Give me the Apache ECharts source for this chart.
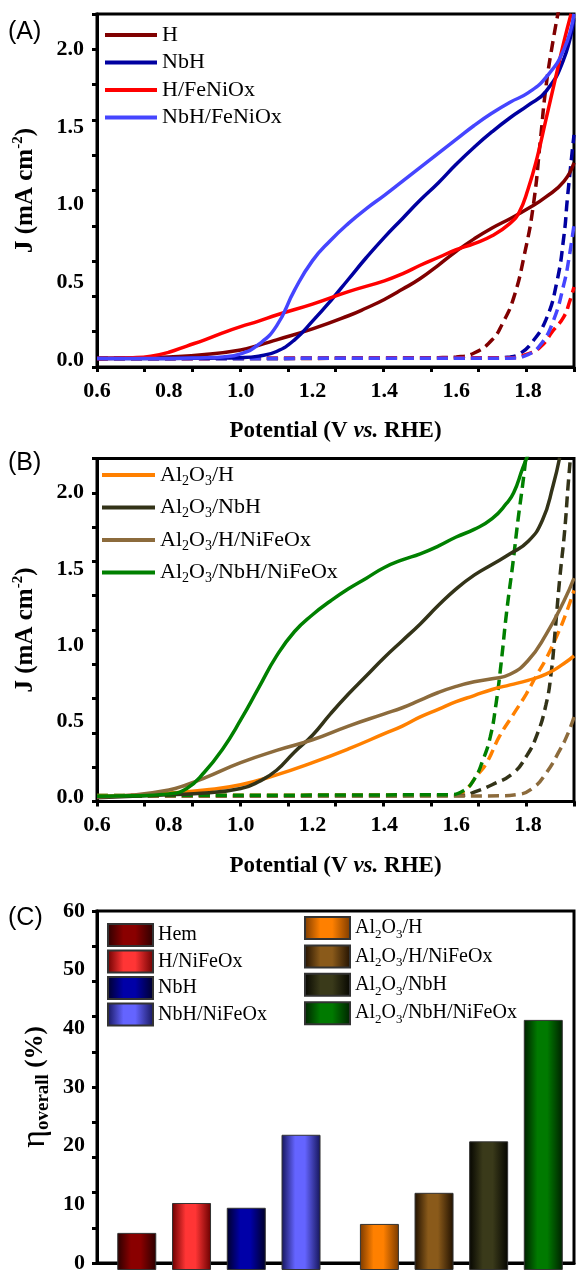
<!DOCTYPE html>
<html>
<head>
<meta charset="utf-8">
<script src="https://cdn.jsdelivr.net/npm/echarts@6/dist/echarts.min.js"></script>
<style>html,body{margin:0;padding:0;background:#fff}#c{width:579px;height:1274px}</style>
</head>
<body>
<div id="c"></div>
<script>
// ---------- DATA ----------
const potentialLabels = [0.6, 0.8, 1.0, 1.2, 1.4, 1.6, 1.8];
const currentLabels = [0.0, 0.5, 1.0, 1.5, 2.0];
const etaLabels = [0, 10, 20, 30, 40, 50, 60];

// Panel A (light: solid, dark: dashed)
const A_H = [[0.6,0.01],[0.7,0.013],[0.8,0.02],[0.9,0.035],[1.0,0.065],[1.05,0.095],[1.1,0.13],[1.2,0.2],[1.3,0.285],[1.35,0.335],[1.4,0.39],[1.45,0.455],[1.5,0.525],[1.55,0.61],[1.6,0.7],[1.65,0.78],[1.7,0.85],[1.75,0.91],[1.8,0.975],[1.85,1.05],[1.9,1.15],[1.928,1.27]];
const A_NbH = [[0.6,0.01],[0.8,0.01],[0.9,0.012],[1.0,0.015],[1.05,0.025],[1.1,0.055],[1.15,0.13],[1.2,0.25],[1.25,0.38],[1.3,0.52],[1.35,0.66],[1.4,0.79],[1.45,0.91],[1.5,1.03],[1.55,1.14],[1.6,1.26],[1.65,1.37],[1.7,1.47],[1.75,1.56],[1.8,1.64],[1.85,1.73],[1.9,1.94],[1.928,2.2]];
const A_HFe = [[0.6,0.01],[0.7,0.015],[0.75,0.025],[0.8,0.05],[0.85,0.09],[0.9,0.13],[0.95,0.175],[1.0,0.215],[1.05,0.25],[1.1,0.29],[1.2,0.36],[1.3,0.44],[1.4,0.51],[1.45,0.555],[1.5,0.61],[1.55,0.66],[1.6,0.71],[1.65,0.75],[1.7,0.8],[1.75,0.88],[1.775,0.95],[1.8,1.1],[1.825,1.3],[1.85,1.55],[1.875,1.8],[1.9,2.05],[1.92,2.23]];
const A_NbHFe = [[0.6,0.01],[0.8,0.01],[0.9,0.015],[0.95,0.02],[1.0,0.04],[1.05,0.1],[1.1,0.22],[1.15,0.45],[1.2,0.64],[1.25,0.77],[1.3,0.88],[1.35,0.975],[1.4,1.06],[1.45,1.15],[1.5,1.24],[1.55,1.33],[1.6,1.42],[1.65,1.51],[1.7,1.59],[1.75,1.66],[1.8,1.72],[1.85,1.82],[1.9,2.0],[1.928,2.23]];
const A_H_dark = [[0.6,0.01],[1.0,0.01],[1.4,0.012],[1.55,0.015],[1.6,0.02],[1.65,0.045],[1.7,0.13],[1.73,0.24],[1.76,0.4],[1.79,0.68],[1.815,1.0],[1.835,1.43],[1.85,1.76],[1.87,2.06],[1.885,2.25]];
const A_NbH_dark = [[0.6,0.01],[1.7,0.012],[1.75,0.02],[1.78,0.045],[1.81,0.11],[1.85,0.26],[1.88,0.5],[1.9,0.8],[1.91,1.05],[1.928,1.45]];
const A_HFe_dark = [[0.6,0.01],[1.75,0.015],[1.8,0.04],[1.835,0.085],[1.87,0.19],[1.9,0.28],[1.915,0.37],[1.928,0.47]];
const A_NbHFe_dark = [[0.6,0.01],[1.75,0.012],[1.8,0.035],[1.835,0.1],[1.87,0.25],[1.9,0.49],[1.915,0.67],[1.928,0.87]];

// Panel B
const B_H = [[0.6,0.01],[0.7,0.015],[0.8,0.03],[0.9,0.05],[1.0,0.085],[1.1,0.15],[1.2,0.23],[1.3,0.32],[1.4,0.42],[1.45,0.47],[1.5,0.53],[1.55,0.58],[1.6,0.63],[1.65,0.67],[1.7,0.71],[1.75,0.74],[1.8,0.77],[1.85,0.81],[1.9,0.88],[1.928,0.93]];
const B_NbH = [[0.6,0.0],[0.8,0.02],[0.9,0.03],[1.0,0.06],[1.05,0.105],[1.1,0.18],[1.15,0.3],[1.2,0.41],[1.25,0.55],[1.3,0.68],[1.35,0.8],[1.4,0.92],[1.45,1.03],[1.5,1.14],[1.55,1.26],[1.6,1.37],[1.65,1.46],[1.7,1.53],[1.75,1.6],[1.8,1.68],[1.84,1.82],[1.87,2.05],[1.888,2.23]];
const B_HFe = [[0.6,0.005],[0.7,0.017],[0.8,0.05],[0.85,0.085],[0.9,0.13],[1.0,0.23],[1.1,0.31],[1.2,0.38],[1.3,0.47],[1.4,0.55],[1.45,0.59],[1.5,0.64],[1.55,0.69],[1.6,0.73],[1.65,0.76],[1.7,0.78],[1.75,0.81],[1.8,0.9],[1.85,1.07],[1.9,1.29],[1.928,1.44]];
const B_NbHFe = [[0.6,0.01],[0.7,0.012],[0.8,0.025],[0.85,0.06],[0.9,0.17],[0.95,0.32],[1.0,0.51],[1.05,0.72],[1.1,0.93],[1.15,1.09],[1.2,1.2],[1.25,1.29],[1.3,1.37],[1.35,1.44],[1.4,1.51],[1.45,1.56],[1.5,1.6],[1.55,1.65],[1.6,1.71],[1.65,1.76],[1.7,1.83],[1.74,1.93],[1.76,2.0],[1.785,2.16],[1.8,2.25]];
const B_H_dark = [[0.6,0.015],[1.6,0.02],[1.63,0.06],[1.656,0.14],[1.684,0.225],[1.72,0.4],[1.76,0.55],[1.795,0.68],[1.823,0.8],[1.85,0.91],[1.88,1.06],[1.906,1.21],[1.928,1.36]];
const B_NbH_dark = [[0.6,0.01],[1.62,0.015],[1.65,0.036],[1.7,0.085],[1.758,0.16],[1.795,0.27],[1.823,0.4],[1.85,0.61],[1.865,0.83],[1.875,1.08],[1.888,1.43],[1.902,1.75],[1.911,2.03],[1.918,2.23]];
const B_HFe_dark = [[0.6,0.01],[1.72,0.012],[1.77,0.02],[1.814,0.064],[1.85,0.16],[1.888,0.31],[1.911,0.42],[1.928,0.53]];
const B_NbHFe_dark = [[0.6,0.015],[1.58,0.02],[1.62,0.045],[1.65,0.12],[1.675,0.25],[1.695,0.4],[1.71,0.6],[1.725,0.88],[1.74,1.21],[1.758,1.54],[1.772,1.82],[1.786,2.07],[1.795,2.25]];

// Panel C
const bareNames = ['Hem', 'H/NiFeOx', 'NbH', 'NbH/NiFeOx'];
const bareEta = [6.2, 11.2, 10.4, 22.6];
const alNames = ['Al2O3/H', 'Al2O3/H/NiFeOx', 'Al2O3/NbH', 'Al2O3/NbH/NiFeOx'];
const alEta = [7.7, 12.9, 21.5, 41.8];

// ---------- STYLE ----------
const SERIF = '"Liberation Serif", "Times New Roman", serif';
const X_MIN = 0.6, X_MAX = 1.928;
const YA_MIN = -0.045, YA_MAX = 2.228;
const YB_MIN = -0.025, YB_MAX = 2.225;
const BAR_PREFIX = 'eta:';
const evenTicks = (a, b, n) => Array.from({length: n + 1}, (_, i) => a + i * (b - a) / n);

const lineColorsA = {'H': '#800000', 'NbH': '#0000a0', 'H/FeNiOx': '#ff0000', 'NbH/FeNiOx': '#4545ff'};
const lineColorsB = {'Al2O3/H': '#ff8000', 'Al2O3/NbH': '#333318', 'Al2O3/H/NiFeOx': '#8c6b3c', 'Al2O3/NbH/NiFeOx': '#008000'};
const barColors = {
  'Hem': ['#2a0000', '#8a0000'],
  'H/NiFeOx': ['#6a0000', '#ff3535'],
  'NbH': ['#000028', '#0000a8'],
  'NbH/NiFeOx': ['#15155a', '#6464ff'],
  'Al2O3/H': ['#7a3a00', '#ff8000'],
  'Al2O3/H/NiFeOx': ['#201000', '#8a5a1a'],
  'Al2O3/NbH': ['#050500', '#3a3a1a'],
  'Al2O3/NbH/NiFeOx': ['#002000', '#007a00']
};

const tickLabel = {fontFamily: SERIF, fontWeight: 'bold', fontSize: 22, color: '#000'};
const axisLine = {show: true, onZero: false, lineStyle: {color: '#000', width: 3}};
const tickStyle = (vals) => ({show: true, inside: false, length: 5, lineStyle: {color: '#000', width: 3}, customValues: vals});

function potentialAxis(gridIndex) {
  return {
    type: 'value', gridIndex, min: X_MIN, max: X_MAX,
    axisLine, splitLine: {show: false},
    axisTick: tickStyle(evenTicks(X_MIN, X_MAX, 10)),
    axisLabel: Object.assign({margin: 13, customValues: potentialLabels, formatter: v => v.toFixed(1)}, tickLabel),
    name: '{b|Potential (V }{i|vs.}{b| RHE)}', nameLocation: 'middle', nameGap: 53,
    nameTextStyle: {rich: {
      b: {fontFamily: SERIF, fontWeight: 'bold', fontSize: 23, color: '#000'},
      i: {fontFamily: SERIF, fontWeight: 'bold', fontStyle: 'italic', fontSize: 23, color: '#000'}
    }}
  };
}
function currentAxis(gridIndex, mn, mx) {
  return {
    type: 'value', gridIndex, min: mn, max: mx,
    axisLine, splitLine: {show: false},
    axisTick: tickStyle(evenTicks(mn, mx, 10)),
    axisLabel: Object.assign({margin: 13, customValues: currentLabels, formatter: v => v.toFixed(1)}, tickLabel),
    name: '{b|J (mA cm}{sup|-2}{b|)}', nameLocation: 'middle', nameRotate: 90, nameGap: 57,
    nameTextStyle: {rich: {
      b: {fontFamily: SERIF, fontWeight: 'bold', fontSize: 25, lineHeight: 29, color: '#000'},
      sup: {fontFamily: SERIF, fontWeight: 'bold', fontSize: 15, lineHeight: 15, verticalAlign: 'top', color: '#000'}
    }}
  };
}

const subFmt = name => name.replace(BAR_PREFIX, '').replace(/^Al2O3(.*)$/, '{t|Al}{s|2}{t|O}{s|3}{t|$1}');
const plainFmt = name => name.replace(BAR_PREFIX, '');
function subRich(size, subSize, lh) {
  return {
    t: {fontFamily: SERIF, fontSize: size, lineHeight: lh, color: '#000'},
    s: {fontFamily: SERIF, fontSize: subSize, lineHeight: subSize, verticalAlign: 'bottom', color: '#000'}
  };
}

function lineSeries(name, data, color, axis, dashed) {
  return {
    type: 'line', name, data, xAxisIndex: axis, yAxisIndex: axis,
    showSymbol: false, symbol: 'none', smooth: 0.5, clip: true,
    lineStyle: {color, width: 3.5, type: dashed ? [11, 6] : 'solid'},
    itemStyle: {color}, z: dashed ? 2 : 3
  };
}
function barSeries(name, names, values, axis) {
  const i = names.indexOf(name);
  const c = barColors[name];
  return {
    type: 'bar', name: BAR_PREFIX + name, xAxisIndex: axis, yAxisIndex: axis,
    data: names.map((n, j) => j === i ? values[i] : null),
    barWidth: 39, barGap: '-100%',
    itemStyle: {
      color: {type: 'linear', x: 0, y: 0, x2: 1, y2: 0, colorStops: [
        {offset: 0, color: c[0]}, {offset: 0.35, color: c[1]}, {offset: 0.6, color: c[1]}, {offset: 1, color: c[0]}
      ]},
      borderColor: '#333', borderWidth: 1
    }
  };
}

const GRID_L = 97, GRID_W = 477;
const option = {
  animation: false,
  backgroundColor: '#fff',
  grid: [
    {left: GRID_L, width: GRID_W, top: 14, height: 353, show: true, borderColor: '#000', borderWidth: 3},
    {left: GRID_L, width: GRID_W, top: 458.5, height: 343, show: true, borderColor: '#000', borderWidth: 3},
    {left: GRID_L, width: GRID_W, top: 911, height: 359, show: true, borderColor: '#000', borderWidth: 3},
    {left: 109.4, width: 219, top: 911, height: 359},
    {left: 352.1, width: 218.5, top: 911, height: 359}
  ],
  xAxis: [
    potentialAxis(0),
    potentialAxis(1),
    {type: 'value', gridIndex: 2, min: 0, max: 1, axisLine, axisTick: {show: false}, axisLabel: {show: false}, splitLine: {show: false}},
    {type: 'category', gridIndex: 3, data: bareNames, show: false},
    {type: 'category', gridIndex: 4, data: alNames, show: false}
  ],
  yAxis: [
    currentAxis(0, YA_MIN, YA_MAX),
    currentAxis(1, YB_MIN, YB_MAX),
    {
      type: 'value', gridIndex: 2, min: 0, max: 60,
      axisLine, splitLine: {show: false},
      axisTick: tickStyle(evenTicks(0, 60, 10)),
      axisLabel: Object.assign({margin: 12, customValues: etaLabels}, tickLabel),
      name: '{e|η}{s|overall}{b| (%)}', nameLocation: 'middle', nameRotate: 90, nameGap: 44,
      nameTextStyle: {rich: {
        e: {fontFamily: SERIF, fontSize: 34, lineHeight: 34, color: '#000'},
        s: {fontFamily: SERIF, fontWeight: 'bold', fontSize: 19, lineHeight: 19, verticalAlign: 'bottom', color: '#000'},
        b: {fontFamily: SERIF, fontWeight: 'bold', fontSize: 25, lineHeight: 34, color: '#000'}
      }}
    },
    {type: 'value', gridIndex: 3, min: 0, max: 60, show: false},
    {type: 'value', gridIndex: 4, min: 0, max: 60, show: false}
  ],
  legend: [
    {data: ['H', 'NbH', 'H/FeNiOx', 'NbH/FeNiOx'], orient: 'vertical', left: 105, top: 24, padding: 0,
     icon: 'rect', itemWidth: 52, itemHeight: 4, itemGap: 5.5,
     textStyle: {fontFamily: SERIF, fontSize: 22, lineHeight: 22, color: '#000'}},
    {data: ['Al2O3/H', 'Al2O3/NbH', 'Al2O3/H/NiFeOx', 'Al2O3/NbH/NiFeOx'], orient: 'vertical', left: 102, top: 464, padding: 0,
     icon: 'rect', itemWidth: 53, itemHeight: 4, itemGap: 8.5, formatter: subFmt,
     textStyle: {fontFamily: SERIF, fontSize: 22, color: '#000', rich: subRich(22, 14, 26)}},
    {data: bareNames.map(n => BAR_PREFIX + n), orient: 'vertical', left: 107, top: 923, padding: 0, icon: 'rect',
     itemWidth: 45, itemHeight: 22, itemGap: 2.5, formatter: plainFmt,
     textStyle: {fontFamily: SERIF, fontSize: 20, lineHeight: 22, color: '#000'}},
    {data: alNames.map(n => BAR_PREFIX + n), orient: 'vertical', left: 304, top: 916, padding: 0, icon: 'rect',
     itemWidth: 45, itemHeight: 22, itemGap: 3.4, formatter: subFmt,
     textStyle: {fontFamily: SERIF, fontSize: 20, color: '#000', rich: subRich(20, 13, 26)}}
  ],
  graphic: [
    {type: 'text', left: 8, top: 20, style: {text: '(A)', font: '25px "Liberation Sans", Arial, sans-serif', fill: '#000'}},
    {type: 'text', left: 8, top: 451, style: {text: '(B)', font: '25px "Liberation Sans", Arial, sans-serif', fill: '#000'}},
    {type: 'text', left: 8, top: 906, style: {text: '(C)', font: '25px "Liberation Sans", Arial, sans-serif', fill: '#000'}}
  ],
  series: [
    lineSeries('H dark', A_H_dark, lineColorsA['H'], 0, true),
    lineSeries('NbH dark', A_NbH_dark, lineColorsA['NbH'], 0, true),
    lineSeries('H/FeNiOx dark', A_HFe_dark, lineColorsA['H/FeNiOx'], 0, true),
    lineSeries('NbH/FeNiOx dark', A_NbHFe_dark, lineColorsA['NbH/FeNiOx'], 0, true),
    lineSeries('H', A_H, lineColorsA['H'], 0, false),
    lineSeries('NbH', A_NbH, lineColorsA['NbH'], 0, false),
    lineSeries('H/FeNiOx', A_HFe, lineColorsA['H/FeNiOx'], 0, false),
    lineSeries('NbH/FeNiOx', A_NbHFe, lineColorsA['NbH/FeNiOx'], 0, false),

    lineSeries('Al2O3/H dark', B_H_dark, lineColorsB['Al2O3/H'], 1, true),
    lineSeries('Al2O3/NbH dark', B_NbH_dark, lineColorsB['Al2O3/NbH'], 1, true),
    lineSeries('Al2O3/H/NiFeOx dark', B_HFe_dark, lineColorsB['Al2O3/H/NiFeOx'], 1, true),
    lineSeries('Al2O3/NbH/NiFeOx dark', B_NbHFe_dark, lineColorsB['Al2O3/NbH/NiFeOx'], 1, true),
    lineSeries('Al2O3/H', B_H, lineColorsB['Al2O3/H'], 1, false),
    lineSeries('Al2O3/NbH', B_NbH, lineColorsB['Al2O3/NbH'], 1, false),
    lineSeries('Al2O3/H/NiFeOx', B_HFe, lineColorsB['Al2O3/H/NiFeOx'], 1, false),
    lineSeries('Al2O3/NbH/NiFeOx', B_NbHFe, lineColorsB['Al2O3/NbH/NiFeOx'], 1, false),

    ...bareNames.map(n => barSeries(n, bareNames, bareEta, 3)),
    ...alNames.map(n => barSeries(n, alNames, alEta, 4))
  ]
};
const chart = echarts.init(document.getElementById('c'), null, {renderer: 'canvas'});
chart.setOption(option);
</script>
</body>
</html>
